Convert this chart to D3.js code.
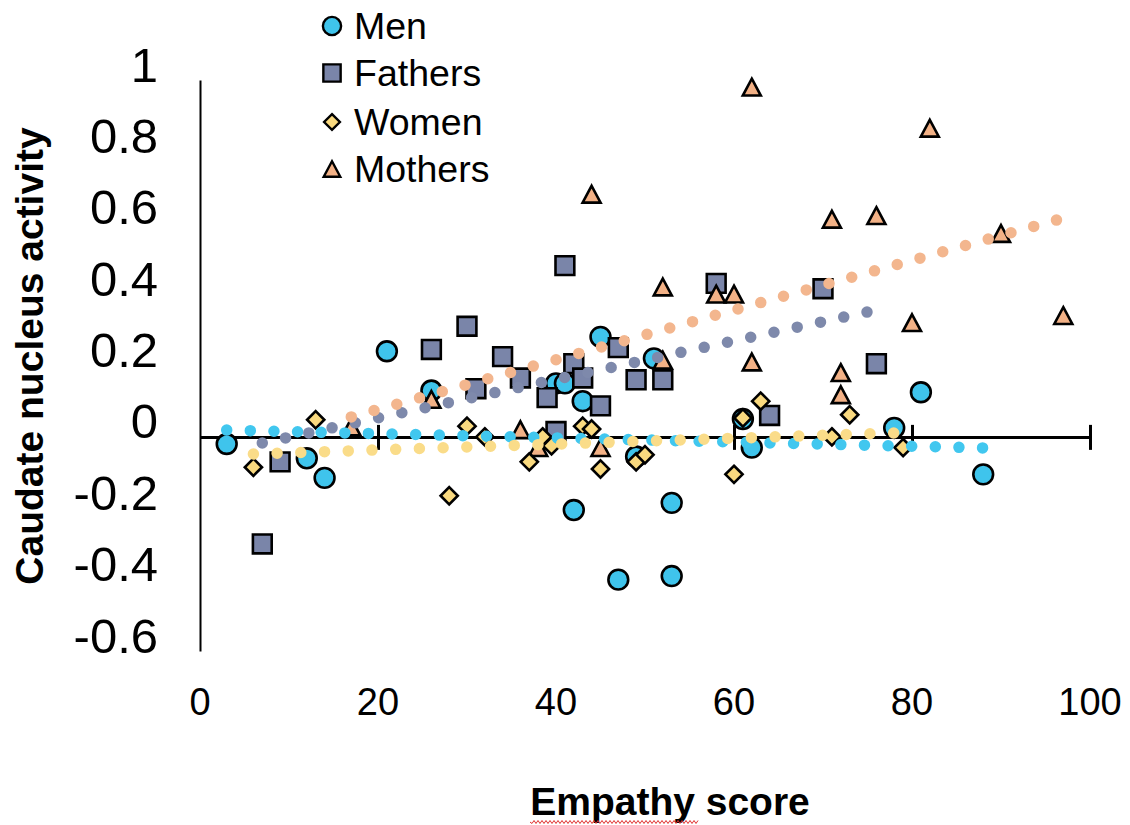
<!DOCTYPE html>
<html>
<head>
<meta charset="utf-8">
<script src="https://cdn.jsdelivr.net/npm/d3@7"></script>
<style>
  html, body { margin: 0; padding: 0; background: #fff; }
  svg { display: block; }
  text { font-family: "Liberation Sans", Arial, sans-serif; fill: #000; }
</style>
</head>
<body>
<svg id="chart" width="1130" height="825"></svg>
<script>
// Empathy score (x) vs caudate nucleus activity (y), one array per group
const men = [
  [3, -0.02], [12, -0.06], [14, -0.115], [21, 0.24], [26, 0.13], [40, 0.15],
  [41, 0.15], [42, -0.205], [43, 0.10], [45, 0.28], [47, -0.40], [49, -0.055],
  [51, 0.22], [53, -0.185], [53, -0.39], [61, 0.05], [62, -0.03], [78, 0.025],
  [81, 0.125], [88, -0.105]
];
const fathers = [
  [7, -0.30], [9, -0.07], [26, 0.245], [30, 0.31], [31, 0.135], [34, 0.225],
  [36, 0.165], [39, 0.11], [40, 0.015], [41, 0.48], [42, 0.205], [43, 0.165],
  [45, 0.087], [47, 0.25], [49, 0.16], [52, 0.16], [58, 0.43], [64, 0.06],
  [70, 0.415], [76, 0.205]
];
const women = [
  [6, -0.085], [13, 0.048], [28, -0.165], [30, 0.03], [32, 0.0], [37, -0.07],
  [38.5, 0.0], [39.5, -0.025], [43, 0.03], [44, 0.022], [45, -0.09], [49, -0.07],
  [50, -0.05], [60, -0.105], [61, 0.053], [63, 0.10], [71, 0.0], [73, 0.062],
  [79, -0.03]
];
const mothers = [
  [17, 0.028], [26, 0.105], [36, 0.02], [38, -0.03], [44, 0.68], [45, -0.03],
  [52, 0.42], [52, 0.215], [58, 0.40], [60, 0.40], [62, 0.98], [62, 0.21],
  [71, 0.61], [72, 0.18], [72, 0.118], [76, 0.62], [80, 0.32], [82, 0.865],
  [90, 0.57], [97, 0.34]
];

// Linear trend lines (start and end point of each fit)
const menTrend = [[3, 0.019], [88, -0.031]];
const fathersTrend = [[7, -0.017], [75, 0.35]];
const womenTrend = [[6, -0.048], [78, 0.011]];
const mothersTrend = [[17, 0.056], [96.3, 0.608]];

const seriesNames = ["Men", "Fathers", "Women", "Mothers"];
const xTickValues = [0, 20, 40, 60, 80, 100];
const xTickLabels = ["0", "20", "40", "60", "80", "100"];
const yTickValues = [1, 0.8, 0.6, 0.4, 0.2, 0, -0.2, -0.4, -0.6];
const yTickLabels = ["1", "0.8", "0.6", "0.4", "0.2", "0", "-0.2", "-0.4", "-0.6"];

const styles = {
  Men:     { fill: "#3FC4EC", trend: "#41C7EF", shape: "circle" },
  Fathers: { fill: "#7A85A9", trend: "#7E89AB", shape: "square" },
  Women:   { fill: "#F9D97F", trend: "#FADC89", shape: "diamond" },
  Mothers: { fill: "#F2B186", trend: "#F3B68E", shape: "triangle" }
};
const seriesData = { Men: men, Fathers: fathers, Women: women, Mothers: mothers };
const trendData = { Men: menTrend, Fathers: fathersTrend, Women: womenTrend, Mothers: mothersTrend };

const svg = d3.select("#chart");
const x = d3.scaleLinear().domain([0, 100]).range([200, 1090]);
const y = d3.scaleLinear().domain([-0.6, 1]).range([651, 80]);
const y0 = y(0);

// Marker path generators
function markerPath(shape, k) {
  const p = d3.path();
  if (shape === "circle") {
    const r = 9.9 * k;
    p.moveTo(r, 0); p.arc(0, 0, r, 0, 2 * Math.PI);
  } else if (shape === "square") {
    const s = 9.4 * k;
    p.rect(-s, -s, 2 * s, 2 * s);
  } else if (shape === "diamond") {
    const s = 8.6 * k;
    p.moveTo(0, -s); p.lineTo(s, 0); p.lineTo(0, s); p.lineTo(-s, 0); p.closePath();
  } else {
    const w = 9 * k, h = 8.4 * k;
    p.moveTo(0, -h); p.lineTo(w, h); p.lineTo(-w, h); p.closePath();
  }
  return p.toString();
}

// Y axis: plain line, labels sit to its left
const yAxis = d3.axisLeft(y).tickValues(yTickValues).tickSize(0)
  .tickFormat((d, i) => yTickLabels[i]);
const gy = svg.append("g").attr("transform", "translate(200,0)").call(yAxis);
gy.select(".domain").attr("stroke", "#000").attr("stroke-width", 2);
gy.selectAll(".tick text")
  .attr("x", -42).attr("dy", null).attr("y", 1)
  .style("font-size", "49px").style("font-family", "Liberation Sans, Arial, sans-serif")
  .attr("fill", "#000");

// X axis drawn along y = 0 with crossing tick marks
const xAxis = d3.axisBottom(x).tickValues(xTickValues.filter(v => v > 0))
  .tickSize(0).tickFormat("");
const gx = svg.append("g").attr("transform", `translate(0,${y0})`).call(xAxis);
gx.select(".domain").attr("stroke", "#000").attr("stroke-width", 3);
gx.selectAll(".tick line")
  .attr("y1", -12).attr("y2", 13)
  .attr("stroke", "#000").attr("stroke-width", 3);

// X tick labels below the plot
svg.append("g").selectAll("text")
  .data(xTickValues)
  .join("text")
  .attr("x", d => x(d))
  .attr("y", 715)
  .attr("text-anchor", "middle")
  .style("font-size", "38px")
  .text((d, i) => xTickLabels[i]);

// Markers
const drawOrder = ["Men", "Fathers", "Mothers", "Women"];
drawOrder.forEach(name => {
  const st = styles[name];
  svg.append("g").selectAll("path")
    .data(seriesData[name])
    .join("path")
    .attr("d", markerPath(st.shape, 1))
    .attr("transform", d => `translate(${x(d[0])},${y(d[1])})`)
    .attr("fill", st.fill)
    .attr("stroke", "#000")
    .attr("stroke-width", 2.6)
    .attr("stroke-linejoin", "miter");
});

// Dotted trend lines, round dots spaced evenly so both ends carry a dot
const line = d3.line().x(d => x(d[0])).y(d => y(d[1]));
["Men", "Fathers", "Mothers", "Women"].forEach(name => {
  const path = svg.append("path")
    .datum(trendData[name])
    .attr("d", line)
    .attr("fill", "none")
    .attr("stroke", styles[name].trend)
    .attr("stroke-width", 11.5)
    .attr("stroke-linecap", "round");
  const len = path.node().getTotalLength();
  const n = Math.max(1, Math.round(len / 23.8));
  const gap = len / n - 0.02;
  path.attr("stroke-dasharray", `0 ${gap}`);
});

// Legend
const legendRows = [26, 73, 122, 169];
const legend = svg.append("g");
seriesNames.forEach((name, i) => {
  const st = styles[name];
  legend.append("path")
    .attr("d", markerPath(st.shape, 0.92))
    .attr("transform", `translate(332,${legendRows[i]})`)
    .attr("fill", st.fill)
    .attr("stroke", "#000")
    .attr("stroke-width", 2.4);
  legend.append("text")
    .attr("x", 354)
    .attr("y", legendRows[i] + 13)
    .style("font-size", "37.5px")
    .text(name);
});

// Axis titles
svg.append("text")
  .attr("transform", "translate(43,356) rotate(-90)")
  .attr("text-anchor", "middle")
  .style("font-size", "39px")
  .style("font-weight", "bold")
  .text("Caudate nucleus activity");

svg.append("text")
  .attr("x", 670)
  .attr("y", 815)
  .attr("text-anchor", "middle")
  .style("font-size", "39px")
  .style("font-weight", "bold")
  .text("Empathy score");

// Red wavy underline beneath the first word of the x title
const squiggle = d3.path();
squiggle.moveTo(530, 822);
for (let sx = 530, k = 0; sx < 697; sx += 2, k++) {
  squiggle.lineTo(sx + 2, 822 + (k % 2 === 0 ? 1.5 : -1.5));
}
svg.append("path")
  .attr("d", squiggle.toString())
  .attr("fill", "none")
  .attr("stroke", "#E0302E")
  .attr("stroke-width", 1);
</script>
</body>
</html>
